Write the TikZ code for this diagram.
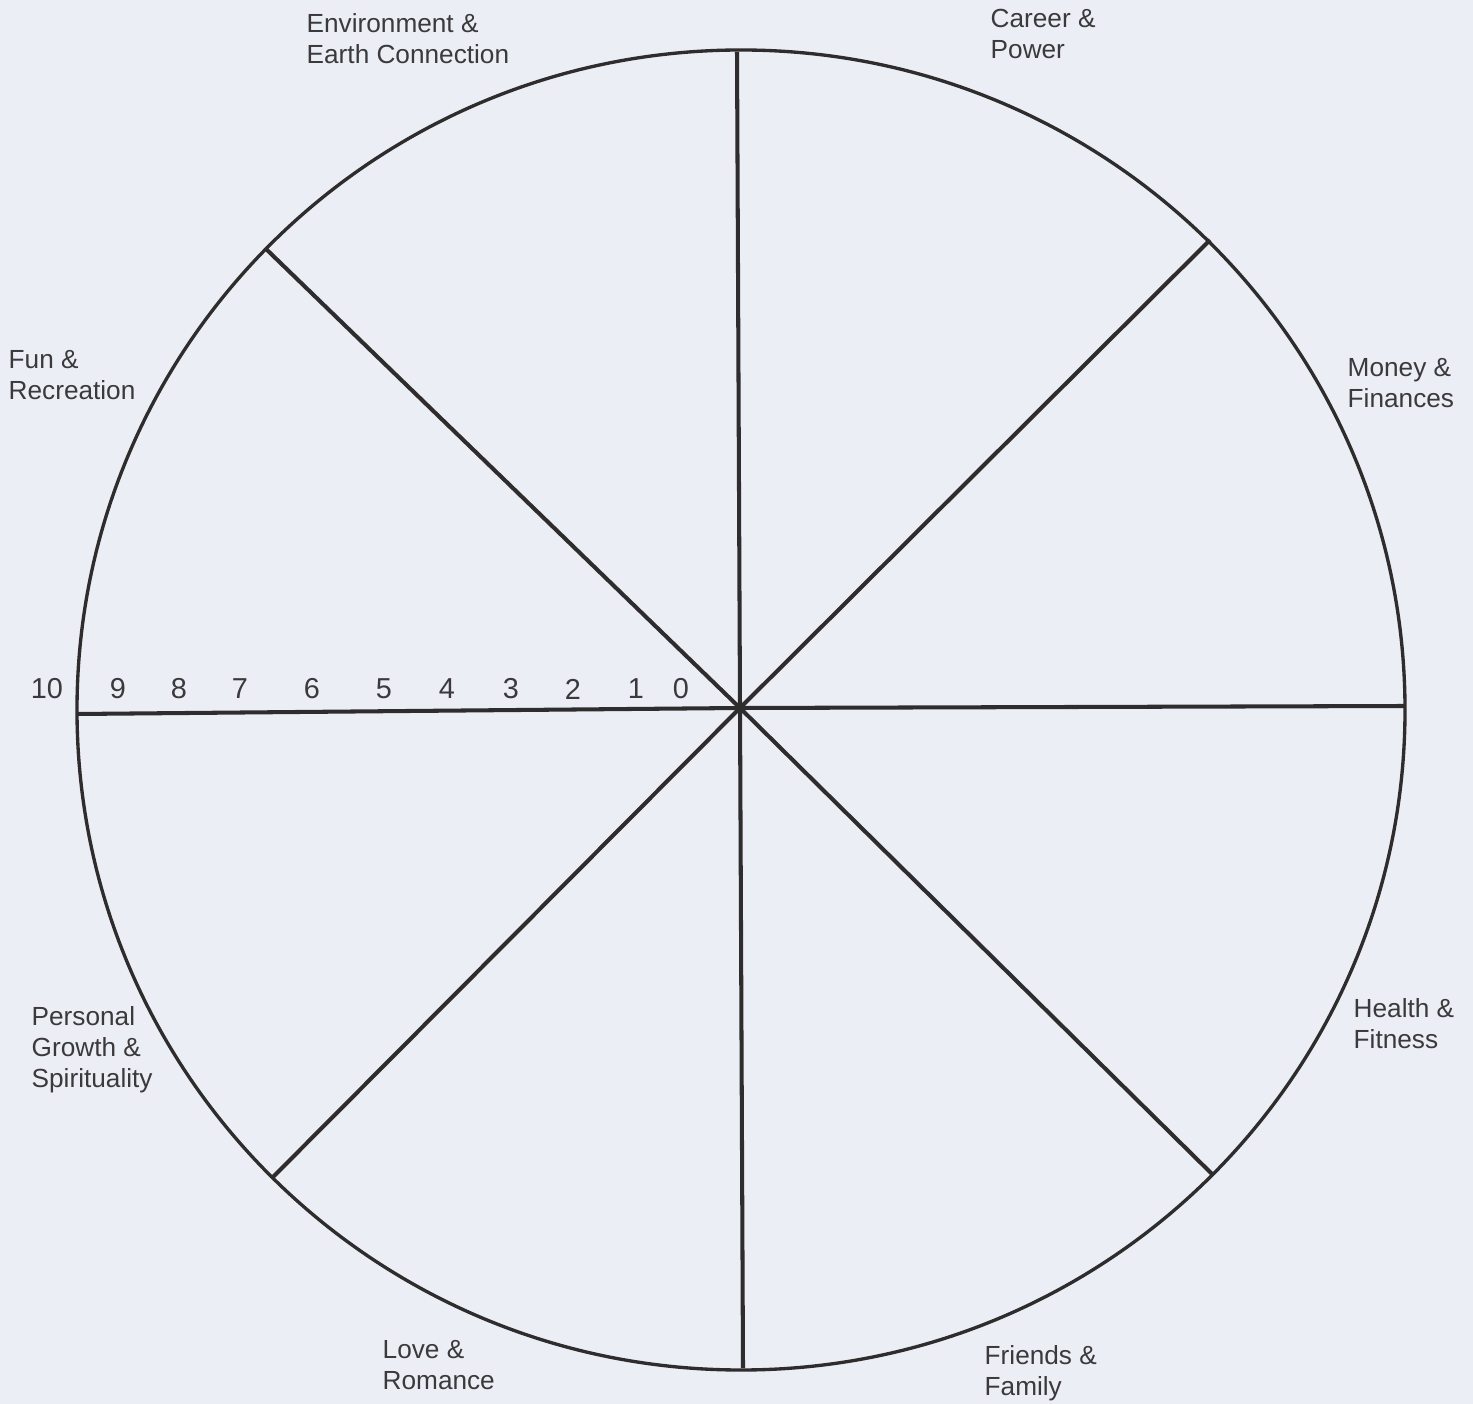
\documentclass[tikz,border=0pt]{standalone}
\usepackage{fontspec}
\setmainfont{Liberation Sans}
\definecolor{paper}{HTML}{ECEEF6}
\definecolor{ink}{HTML}{2E2C2D}
\definecolor{print}{HTML}{3A393B}
\newcommand{\score}[2]{\node[num] (s#1) at (#2,689) {#1}}
\tikzset{
  spoke/.style={ink,line width=1.15pt},
  rim/.style={ink,line width=0.95pt},
  area/.style={anchor=north west,inner sep=0pt,align=left,text=print,
    font=\fontsize{7.45}{8.8}\selectfont},
  num/.style={inner sep=0pt,text=print,font=\fontsize{8.2}{9}\selectfont}
}
\begin{document}
\begin{tikzpicture}[x=0.01cm,y=-0.01cm]
	\fill[paper] (0,0) rectangle (1473,1404);
	\useasboundingbox (0,0) rectangle (1473,1404);
		\coordinate (mid) at (741,710);
		\coordinate (hub) at (740,708);
		\coordinate (n) at (737,52);
		\coordinate (s) at (743,1368);
		\coordinate (w) at (77,714);
		\coordinate (e) at (1405,706);
		\coordinate (nw) at (265,248);
		\coordinate (se) at (1213,1175);
		\coordinate (ne) at (1210,240);
		\coordinate (sw) at (272,1178);
	\draw[rim] (mid) ellipse (664 and 660);
		\draw[spoke] (hub) -- (n);
		\draw[spoke] (hub) -- (s);
		\draw[spoke] (hub) -- (w);
		\draw[spoke] (hub) -- (e);
		\draw[spoke] (hub) -- (nw);
		\draw[spoke] (hub) -- (se);
		\draw[spoke] (hub) -- (ne);
		\draw[spoke] (hub) -- (sw);
	% life areas
	\node[area] (env) at (306,13) {Environment \&\\Earth Connection};
	\node[area] (career) at (990,9) {Career \&\\Power};
	\node[area] (money) at (1347,358) {Money \&\\Finances};
	\node[area] (fun) at (8,350) {Fun \&\\Recreation};
	\node[area] (health) at (1353,998) {Health \&\\Fitness};
	\node[area] (growth) at (31,1006) {Personal\\Growth \&\\Spirituality};
	\node[area] (love) at (382,1340) {Love \&\\Romance};
	\node[area] (friends) at (984,1345) {Friends \&\\Family};
	% scale
		\score{10}{47};
		\score{9}{118};
		\score{8}{179};
		\score{7}{240};
		\score{6}{312};
		\score{5}{384};
		\score{4}{447};
		\score{3}{511};
		\score{2}{573};
		\score{1}{636};
		\score{0}{681};
\end{tikzpicture}
\end{document}
